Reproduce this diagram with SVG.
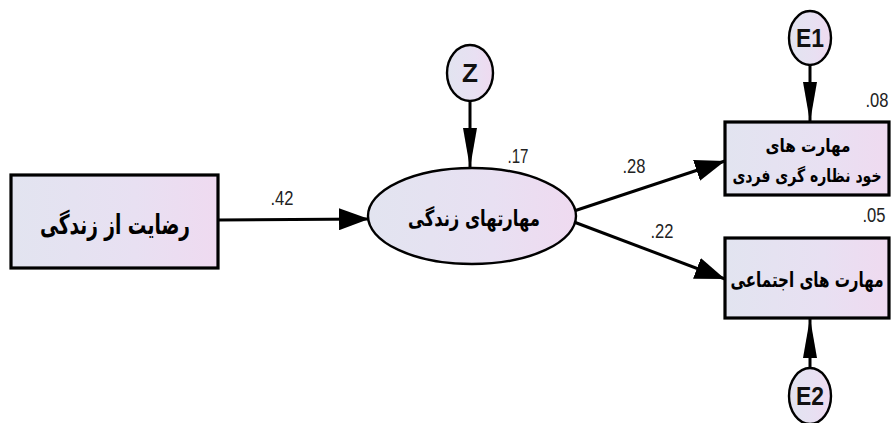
<svg xmlns="http://www.w3.org/2000/svg" width="892" height="423" viewBox="0 0 892 423">
<defs>
<linearGradient id="g" x1="0" y1="0" x2="1" y2="0">
<stop offset="0" stop-color="#e2e4f0"/>
<stop offset="0.6" stop-color="#e8e0f2"/>
<stop offset="1" stop-color="#efdaf0"/>
</linearGradient>
<marker id="aL" markerUnits="userSpaceOnUse" markerWidth="40" markerHeight="16" refX="40" refY="8" orient="auto"><path d="M0,1 L40,8 L0,15 Z" fill="#000"/></marker>
<marker id="aS" markerUnits="userSpaceOnUse" markerWidth="30" markerHeight="22" refX="30" refY="11" orient="auto"><path d="M0,0 L30,11 L0,22 Z" fill="#000"/></marker>
</defs>
<style>
.box{fill:url(#g);stroke:#000;stroke-width:3.2}
.ell{fill:url(#g);stroke:#000;stroke-width:2.4}
.fa{font-family:"DejaVu Sans",sans-serif;font-weight:bold;fill:#000;text-anchor:middle}
.lat{font-family:"Liberation Sans",Arial,sans-serif;font-weight:bold;fill:#111;text-anchor:middle}
.num{font-family:"Liberation Sans",Arial,sans-serif;font-size:20px;fill:#222;text-anchor:middle}
.c{stroke:#000;stroke-width:3;fill:none}
</style>
<rect width="892" height="423" fill="#fff"/>
<g id="connectors">
<line class="c" x1="218" y1="220" x2="369" y2="219" marker-end="url(#aS)"/>
<line class="c" x1="470" y1="101" x2="470" y2="168" marker-end="url(#aL)"/>
<line class="c" x1="574" y1="211" x2="725" y2="161" marker-end="url(#aS)"/>
<line class="c" x1="574" y1="222" x2="725" y2="279" marker-end="url(#aS)"/>
<line class="c" x1="810" y1="65" x2="810" y2="122" marker-end="url(#aL)"/>
<line class="c" x1="810" y1="368" x2="810" y2="318" marker-end="url(#aL)"/>
</g>
<g id="labels">
<text class="num" x="282" y="205" textLength="23" lengthAdjust="spacingAndGlyphs">.42</text>
<text class="num" x="518" y="163" textLength="21" lengthAdjust="spacingAndGlyphs">.17</text>
<text class="num" x="634" y="173" textLength="23" lengthAdjust="spacingAndGlyphs">.28</text>
<text class="num" x="662" y="238" textLength="23" lengthAdjust="spacingAndGlyphs">.22</text>
<text class="num" x="877" y="107" textLength="23" lengthAdjust="spacingAndGlyphs">.08</text>
<text class="num" x="874" y="222" textLength="23" lengthAdjust="spacingAndGlyphs">.05</text>
</g>
<g id="n-reza">
<rect class="box" x="11" y="175" width="207" height="93"/>
<text class="fa" x="115" y="234" font-size="27" textLength="150" lengthAdjust="spacingAndGlyphs">رضایت از زندگی</text>
</g>
<g id="n-maharat">
<ellipse class="ell" cx="472" cy="216" rx="104" ry="48"/>
<text class="fa" x="474" y="226" font-size="22" textLength="132" lengthAdjust="spacingAndGlyphs">مهارتهای زندگی</text>
</g>
<g id="n-z">
<ellipse class="ell" cx="470" cy="73" rx="23" ry="28"/>
<text class="lat" x="470" y="82" font-size="25" textLength="16" lengthAdjust="spacingAndGlyphs">Z</text>
</g>
<g id="n-khod">
<rect class="box" x="725" y="122" width="164" height="73"/>
<text class="fa" font-size="18" transform="translate(808,152) scale(0.85,1)">مهارت های</text>
<text class="fa" font-size="18" transform="translate(807,182) scale(0.78,1)">خود نظاره گری فردی</text>
</g>
<g id="n-ejtemai">
<rect class="box" x="725" y="238" width="164" height="80"/>
<text class="fa" font-size="21" transform="translate(807,287) scale(0.72,1)">مهارت های اجتماعی</text>
</g>
<g id="n-e1">
<ellipse class="ell" cx="810" cy="38" rx="21" ry="27"/>
<text class="lat" x="810" y="47" font-size="25" textLength="28" lengthAdjust="spacingAndGlyphs">E1</text>
</g>
<g id="n-e2">
<ellipse class="ell" cx="810" cy="396" rx="21" ry="28"/>
<text class="lat" x="810" y="405" font-size="25" textLength="28" lengthAdjust="spacingAndGlyphs">E2</text>
</g>
</svg>
